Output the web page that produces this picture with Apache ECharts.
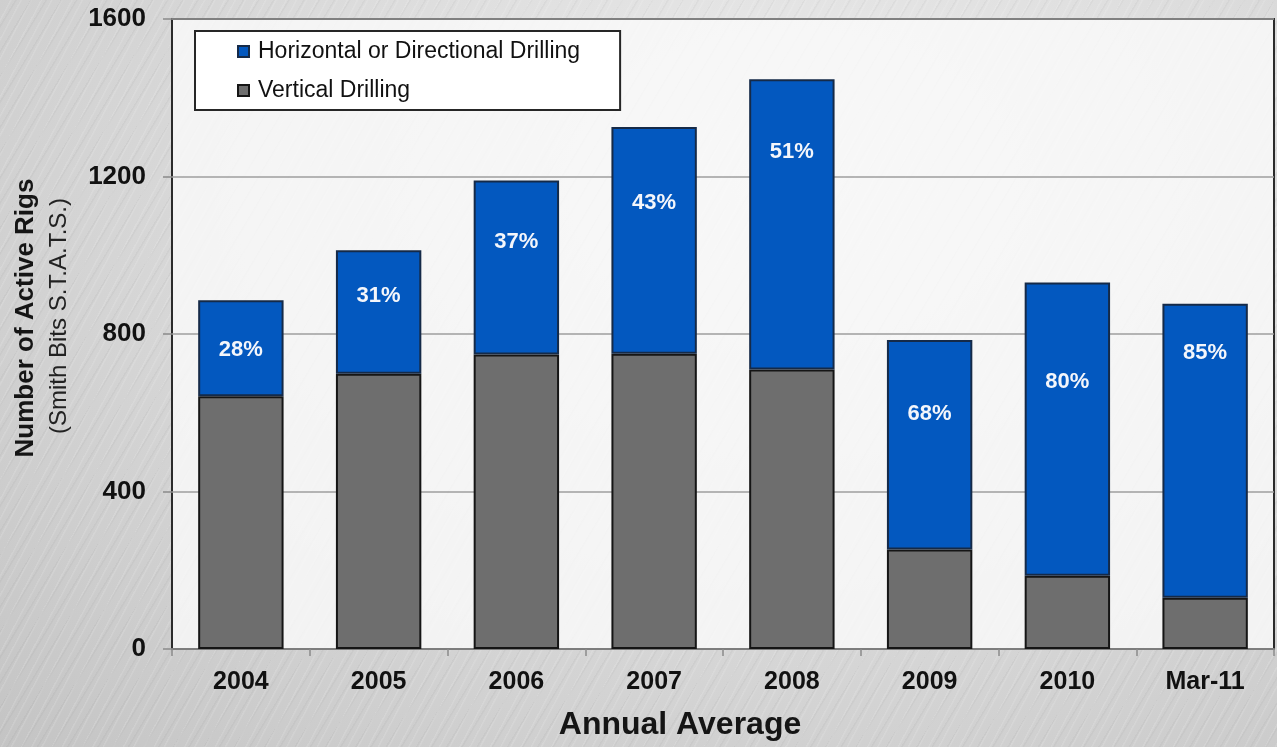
<!DOCTYPE html>
<html>
<head>
<meta charset="utf-8">
<script src="https://cdn.jsdelivr.net/npm/echarts@6/dist/echarts.min.js"></script>
<style>
  html, body { margin: 0; padding: 0; }
  body {
    width: 1277px; height: 747px; overflow: hidden;
    background:
      repeating-linear-gradient(118deg, rgba(255,255,255,0.12) 0px, rgba(255,255,255,0.12) 1px, rgba(0,0,0,0) 2px, rgba(0,0,0,0) 9px),
      repeating-linear-gradient(121deg, rgba(0,0,0,0.03) 0px, rgba(0,0,0,0.03) 1px, rgba(0,0,0,0) 2px, rgba(0,0,0,0) 13px),
      radial-gradient(ellipse at 62% 25%, #ececec 0%, #dcdcdc 45%, #c4c4c4 100%);
  }
  #chart { width: 1277px; height: 747px; }
</style>
</head>
<body>
<div id="chart"></div>
<script>
// Annual average rig counts by drilling type
const categories = ['2004', '2005', '2006', '2007', '2008', '2009', '2010', 'Mar-11'];
const verticalRigs = [642, 699, 748, 750, 710, 253, 186, 130];
const horizontalRigs = [244, 314, 442, 576, 737, 532, 745, 747];
const yTicks = [0, 400, 800, 1200, 1600];

// how far each share label sits below the top of its blue segment (px)
const labelInset = [39, 35, 50, 65, 62, 63, 89, 38];

const FONT = '"Liberation Sans", Arial, Helvetica, sans-serif';
const BLUE = '#0358bf';
const GREY = '#6e6e6e';

const shareLabels = horizontalRigs.map((h, i) =>
  Math.round(h / (h + verticalRigs[i]) * 100) + '%');

const chart = echarts.init(document.getElementById('chart'), null, { renderer: 'canvas' });

chart.setOption({
  backgroundColor: 'transparent',
  animation: false,
  grid: {
    left: 172, right: 3, top: 19, bottom: 98,
    show: true,
    backgroundColor: 'rgba(250,250,250,0.82)',
    borderColor: '#2b2b2b',
    borderWidth: 2
  },
  legend: {
    orient: 'vertical',
    left: 195, top: 31,
    data: ['Horizontal or Directional Drilling', 'Vertical Drilling'],
    backgroundColor: '#ffffff',
    borderColor: '#262626',
    borderWidth: 2,
    padding: [9, 40, 8, 42],
    itemWidth: 11, itemHeight: 11, itemGap: 16,
    icon: 'rect',
    textStyle: { fontFamily: FONT, fontSize: 23, color: '#111', padding: [0, 0, 0, 4] }
  },
  xAxis: {
    type: 'category',
    data: categories,
    axisLine: { show: true, lineStyle: { color: '#7d7d7d', width: 2 } },
    axisTick: { show: true, length: 7, interval: 0, lineStyle: { color: '#8a8a8a', width: 1.5 } },
    axisLabel: { fontFamily: FONT, fontSize: 25, fontWeight: 'bold', color: '#111', margin: 21, interval: 0 }
  },
  yAxis: {
    type: 'value',
    min: yTicks[0], max: yTicks[yTicks.length - 1], interval: yTicks[1] - yTicks[0],
    axisLine: { show: false },
    axisTick: { show: true, length: 9, lineStyle: { color: '#8a8a8a', width: 1.5 } },
    splitLine: { show: true, lineStyle: { color: '#9e9e9e', width: 1.5 } },
    axisLabel: {
      fontFamily: FONT, fontSize: 26, fontWeight: 'bold', color: '#111', margin: 26,
      formatter: v => String(v)
    }
  },
  series: [
    {
      name: 'Vertical Drilling',
      type: 'bar',
      stack: 'rigs',
      barWidth: '62%',
      data: verticalRigs,
      itemStyle: { color: GREY, borderColor: '#151515', borderWidth: 2 },
      emphasis: { disabled: true }
    },
    {
      name: 'Horizontal or Directional Drilling',
      type: 'bar',
      stack: 'rigs',
      barWidth: '62%',
      data: horizontalRigs.map((v, i) => ({
        value: v,
        label: { distance: labelInset[i] }
      })),
      itemStyle: { color: BLUE, borderColor: '#152a48', borderWidth: 2 },
      label: {
        show: true,
        position: 'insideTop',
        formatter: p => shareLabels[p.dataIndex],
        fontFamily: FONT, fontSize: 22, fontWeight: 'bold', color: '#f4f6fb'
      },
      emphasis: { disabled: true }
    }
  ],
  graphic: [
    {
      type: 'text', x: 26, y: 318, rotation: Math.PI / 2,
      style: {
        text: 'Number of Active Rigs', fontFamily: FONT, fontSize: 26, fontWeight: 'bold',
        fill: '#151515', align: 'center', verticalAlign: 'middle'
      }
    },
    {
      type: 'text', x: 59, y: 316, rotation: Math.PI / 2,
      style: {
        text: '(Smith Bits S.T.A.T.S.)', fontFamily: FONT, fontSize: 24,
        fill: '#222', align: 'center', verticalAlign: 'middle'
      }
    },
    {
      type: 'text', x: 680, y: 725,
      style: {
        text: 'Annual Average', fontFamily: FONT, fontSize: 32, fontWeight: 'bold',
        fill: '#151515', align: 'center', verticalAlign: 'middle'
      }
    }
  ]
});
</script>
</body>
</html>
